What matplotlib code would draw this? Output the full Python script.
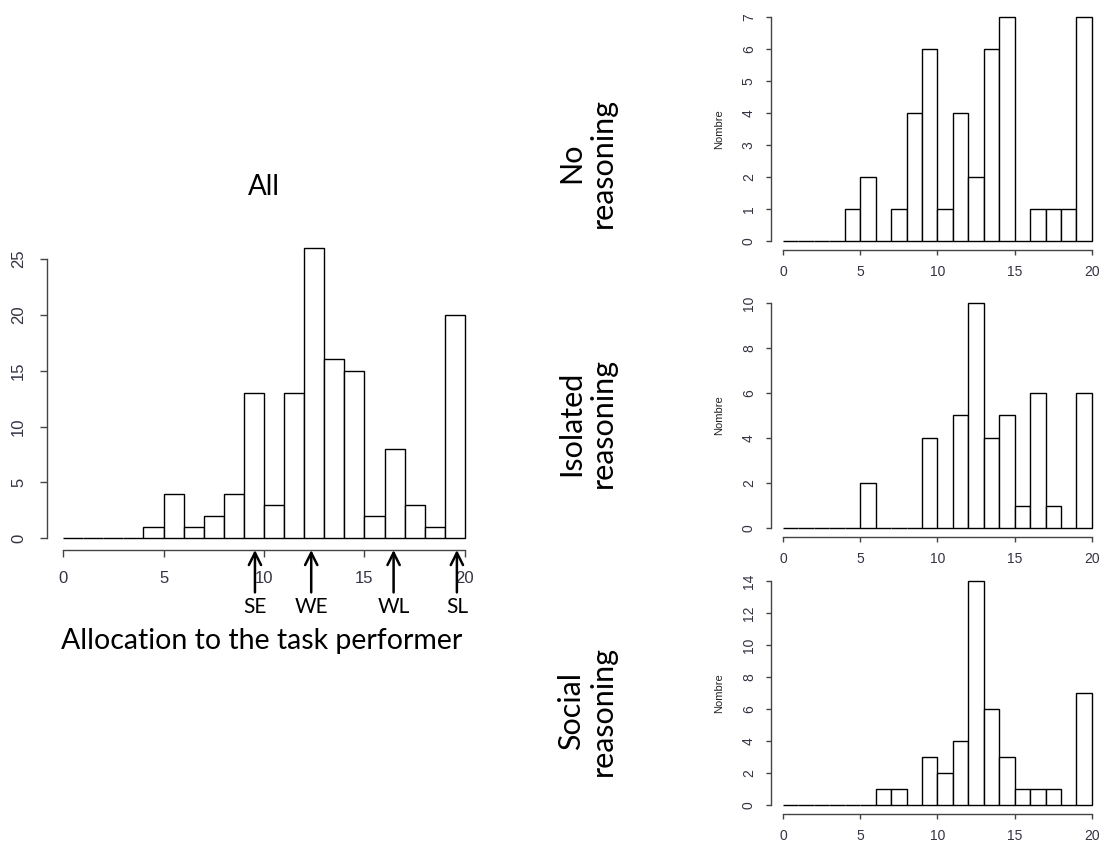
import numpy as np
import matplotlib.pyplot as plt

# counts per unit bin, bins 0-1, 1-2, ..., 19-20
edges = np.arange(0, 21)
no_reasoning = [0, 0, 0, 0, 1, 2, 0, 1, 4, 6, 1, 4, 2, 6, 7, 0, 1, 1, 1, 7]
isolated = [0, 0, 0, 0, 0, 2, 0, 0, 0, 4, 0, 5, 10, 4, 5, 1, 6, 1, 0, 6]
social = [0, 0, 0, 0, 0, 0, 1, 1, 0, 3, 2, 4, 14, 6, 3, 1, 1, 1, 0, 7]
all_counts = np.array(no_reasoning) + np.array(isolated) + np.array(social)

# reference points under the main histogram
ref_pos = [9.55, 12.35, 16.45, 19.6]
ref_labels = ['SE', 'WE', 'WL', 'SL']

tick_col = '#333344'
spine_col = '#444444'
txt_font = ['Lato', 'DejaVu Sans']


def r_hist(ax, counts, yticks, fs, ticklen, pad):
    ax.bar(edges[:-1], counts, width=1, align='edge', color='white',
           edgecolor='black', linewidth=1.0)
    ymax = max(counts)
    ax.set_xlim(-0.8, 20.8)
    ax.set_ylim(-0.04 * ymax, 1.04 * ymax)
    for s in ['top', 'right']:
        ax.spines[s].set_visible(False)
    ax.spines['left'].set_bounds(yticks[0], yticks[-1])
    ax.spines['bottom'].set_bounds(0, 20)
    for s in ['left', 'bottom']:
        ax.spines[s].set_color(spine_col)
        ax.spines[s].set_linewidth(1.0)
    ax.set_xticks([0, 5, 10, 15, 20])
    ax.set_yticks(yticks)
    ax.set_yticklabels([str(v) for v in yticks], rotation=90, va='center')
    ax.tick_params(length=ticklen, width=1.0, color=spine_col,
                   labelsize=fs, labelcolor=tick_col, pad=pad)
    for lab in ax.get_xticklabels() + ax.get_yticklabels():
        lab.set_fontfamily('Liberation Sans')


fig = plt.figure(figsize=(11.03, 8.47), dpi=100)

# main panel
ax0 = fig.add_axes([47 / 1103, 1 - 550 / 847, 434 / 1103, 314 / 847])
r_hist(ax0, all_counts, [0, 5, 10, 15, 20, 25], 12, 5, 10)
ax0.text(0.5, 1.155, 'All', transform=ax0.transAxes, ha='center',
         va='center', fontsize=20, family=txt_font)
for xp, lab in zip(ref_pos, ref_labels):
    ax0.annotate('', xy=(xp, 0), xycoords=('data', 'axes fraction'),
                 xytext=(xp, -0.135), textcoords=('data', 'axes fraction'),
                 arrowprops=dict(arrowstyle='->', lw=1.8, color='black',
                                 mutation_scale=22, shrinkA=0, shrinkB=0))
    ax0.text(xp, -0.183, lab, transform=ax0.get_xaxis_transform(),
             ha='center', va='center', fontsize=15, family=txt_font)
ax0.text(0.495, -0.29, 'Allocation to the task performer',
         transform=ax0.transAxes, ha='center', va='center',
         fontsize=20.5, family=txt_font)

# small panels
panels = [
    (no_reasoning, list(range(0, 8)), 250, 8, 'No\nreasoning', 163),
    (isolated, list(range(0, 11, 2)), 537, 294, 'Isolated\nreasoning', 423),
    (social, list(range(0, 15, 2)), 814, 572, 'Social\nreasoning', 711),
]
for counts, yt, bot_px, top_px, name, ymid in panels:
    ax = fig.add_axes([770.6 / 1103, 1 - bot_px / 847, 333.7 / 1103,
                       (bot_px - top_px) / 847])
    r_hist(ax, counts, yt, 10, 3.6, 7)
    ax.set_ylabel('Nombre', fontsize=8, family='Liberation Sans',
                  color='#222222', labelpad=13)
    fig.text(587 / 1103, 1 - ymid / 847, name, rotation=90, ha='center',
             va='center', multialignment='center', fontsize=22,
             family=txt_font, linespacing=1.15)

fig.savefig('out.png', dpi=100)
